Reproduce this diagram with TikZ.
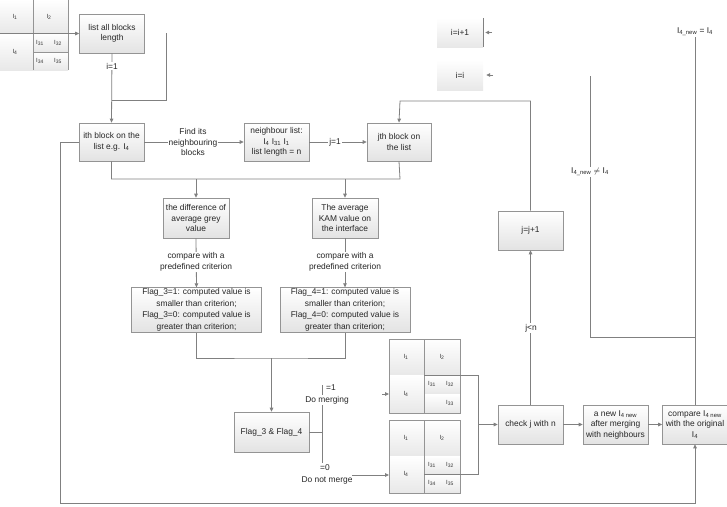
\documentclass[tikz,border=0pt]{standalone}
\usepackage{fontspec}
\setmainfont{Liberation Sans}
\usetikzlibrary{arrows.meta}
\newcommand{\Ib}[1]{I\textsubscript{#1}}
\begin{document}
\begin{tikzpicture}[x=1pt,y=-1pt]
\tikzset{
  ln/.style={draw=black!50, line width=0.8pt},
  arr/.style={ln, -{Triangle[length=4pt,width=3.6pt]}},
  box/.style={draw=black!42, line width=0.7pt, top color=white, bottom color=black!11,
    align=center, inner sep=1pt, text=black!85,
    font=\fontsize{8.4}{10.5}\selectfont},
  bigbox/.style={box, font=\fontsize{8.4}{11.6}\selectfont},
  plainbox/.style={top color=white, bottom color=black!9, align=center, inner sep=1pt,
    text=black!85, font=\fontsize{8.4}{10.5}\selectfont},
  lab/.style={fill=white, inner sep=1pt, align=center, text=black!85,
    font=\fontsize{8.4}{10.5}\selectfont},
  cell/.style={top color=white, bottom color=black!9},
  grid/.style={draw=black!42, line width=0.7pt},
  gl/.style={inner sep=0pt, text=black!80, font=\fontsize{6}{7}\selectfont},
}
\useasboundingbox (0,0) rectangle (727,506);

% ---------- initial block layout (top left) ----------
\path[cell] (0,0) rectangle (33,33);
\path[cell] (33,0) rectangle (68,33);
\path[cell] (0,33) rectangle (33,70);
\path[cell] (33,33) rectangle (68,52);
\path[cell] (33,52) rectangle (68,70);
\draw[grid] (33,0) -- (33,70) (68,0) -- (68,70) (33,52) -- (68,52);
\node[gl] (a1) at (15,17) {\Ib{1}};
\node[gl] (a2) at (49,17) {\Ib{2}};
\node[gl] (a4) at (15,52) {\Ib{4}};
\node[gl] (a31) at (40,43) {\Ib{31}};
\node[gl] (a32) at (58,43) {\Ib{32}};
\node[gl] (a34) at (40,61) {\Ib{34}};
\node[gl] (a35) at (58,61) {\Ib{35}};
\coordinate (gridOut) at (0,33.5);

% ---------- merged layout (upper) ----------
\path[cell] (389,339) rectangle (424,375);
\path[cell] (424,339) rectangle (460,375);
\path[cell] (389,375) rectangle (424,413);
\path[cell] (424,375) rectangle (460,394);
\path[cell] (424,394) rectangle (460,413);
\draw[grid] (389,339) rectangle (460,413) (424,339) -- (424,413);
\node[gl] (t1) at (406,357) {\Ib{1}};
\node[gl] (t2) at (442,357) {\Ib{2}};
\node[gl] (t4) at (406,394) {\Ib{4}};
\node[gl] (t31) at (432,384) {\Ib{31}};
\node[gl] (t32) at (450,384) {\Ib{32}};
\node[gl] (t33) at (450,403) {\Ib{33}};

% ---------- unmerged layout (lower) ----------
\path[cell] (389,420) rectangle (424,456);
\path[cell] (424,420) rectangle (460,456);
\path[cell] (389,456) rectangle (424,493);
\path[cell] (424,456) rectangle (460,474);
\path[cell] (424,474) rectangle (460,493);
\draw[grid] (389,420) rectangle (460,493) (424,420) -- (424,493);
\node[gl] (b1) at (406,438) {\Ib{1}};
\node[gl] (b2) at (442,438) {\Ib{2}};
\node[gl] (b4) at (406,474) {\Ib{4}};
\node[gl] (b31) at (432,465) {\Ib{31}};
\node[gl] (b32) at (450,465) {\Ib{32}};
\node[gl] (b34) at (432,483) {\Ib{34}};
\node[gl] (b35) at (450,483) {\Ib{35}};

% ---------- process boxes ----------
\node[box, minimum width=65pt, minimum height=39pt] (list) at (112,33.5) {list all blocks\\length};
\node[box, minimum width=65pt, minimum height=38pt] (ith) at (111.5,142) {ith block on the\\list e.g. \Ib{4}};
\node[box, minimum width=65pt, minimum height=38pt] (nbr) at (276.5,142) {neighbour list:\\\Ib{4} \Ib{31} \Ib{1}\\list length = n};
\node[box, minimum width=64pt, minimum height=38pt] (jth) at (399,142) {jth block on\\the list};
\node[box, minimum width=66pt, minimum height=40pt] (diff) at (196,218) {the difference of\\average grey\\value};
\node[box, minimum width=66pt, minimum height=40pt] (kam) at (345,218) {The average\\KAM value on\\the interface};
\node[bigbox, minimum width=130pt, minimum height=44pt] (flagA) at (196.5,310) {Flag\_3=1: computed value is\\smaller than criterion;\\Flag\_3=0: computed value is\\greater than criterion;};
\node[bigbox, minimum width=130pt, minimum height=44pt] (flagB) at (345,310) {Flag\_4=1: computed value is\\smaller than criterion;\\Flag\_4=0: computed value is\\greater than criterion;};
\node[box, minimum width=75pt, minimum height=40pt] (flags) at (271.5,432) {Flag\_3 \& Flag\_4};
\node[box, minimum width=65pt, minimum height=39pt] (check) at (530.5,424.5) {check j with n};
\node[box, minimum width=65pt, minimum height=39pt] (newb) at (615.5,424.5) {a new \Ib{4 new}\\after merging\\with neighbours};
\node[box, minimum width=65pt, minimum height=39pt] (cmp) at (695,424.5) {compare \Ib{4 new}\\with the original\\\Ib{4}};
\node[box, minimum width=65pt, minimum height=39pt] (jinc) at (530.5,230.5) {j=j+1};
\node[plainbox, minimum width=46pt, minimum height=29pt] (iinc) at (460,32.5) {i=i+1};
\node[plainbox, minimum width=46pt, minimum height=30pt] (ikeep) at (460,75) {i=i};
\draw[ln] (iinc.north east) -- (iinc.south east);

% ---------- named points of the connectors ----------
\coordinate (loopTop) at (166,33);
\coordinate (loopJoin) at (112,100);
\coordinate (bottomLeft) at (60,503);
\coordinate (split) at (400,179);
\coordinate (jLoop) at (400,101);
\coordinate (join) at (271.5,358);
\coordinate (fork) at (322,432);
\coordinate (forkTop) at (322,385);
\coordinate (forkBot) at (322,463);
\coordinate (tMid) at (424,375);
\coordinate (bMid) at (424,474);
\coordinate (mergeB) at (478,474);
\coordinate (mergeMid) at (478,424.5);
\coordinate (mergeTail) at (382,394);
\coordinate (t4w) at (389,394);
\coordinate (b4w) at (389,475);
\coordinate (neqCorner) at (590,337);
\coordinate (neqTop) at (590,76);
\coordinate (iincTail) at (492,32.5);
\coordinate (ikeepTail) at (493,75);

% ---------- connectors ----------
\draw[arr] (gridOut) -- (list.west);
\draw[arr] (list.south) -- (ith.north);
\draw[ln] (loopTop) |- (loopJoin);
\draw[arr] (ith.west) -| (bottomLeft) -| (cmp.south);
\draw[arr] (ith.east) -- (nbr.west);
\draw[arr] (nbr.east) -- (jth.west);
\draw[arr] (jinc.north) |- (jLoop) -- (jth.north);
\draw[ln] (ith.south) |- (split) -- (jth.south);
\draw[arr] (diff.north |- split) -- (diff.north);
\draw[arr] (kam.north |- split) -- (kam.north);
\draw[arr] (diff.south) -- (flagA.north);
\draw[arr] (kam.south) -- (flagB.north);
\draw[ln] (flagA.south) |- (join) -| (flagB.south);
\draw[arr] (join) -- (flags.north);
\draw[ln] (flags.east) -- (fork);
\draw[ln] (forkTop) -- (forkBot);
\draw[arr] (mergeTail) -- (t4w);
\draw[ln] (tMid) -| (mergeB) -- (bMid);
\draw[arr] (mergeMid) -- (check.west);
\draw[arr] (check.north) -- (jinc.south);
\draw[arr] (check.east) -- (newb.west);
\draw[arr] (newb.east) -- (cmp.west);
\draw[ln] (cmp.north |- neqCorner) -- (neqCorner) -- (neqTop);
\draw[arr, shorten >=2pt] (iincTail) -- (iinc.east);
\draw[arr, shorten >=3pt] (ikeepTail) -- (ikeep.east);

% ---------- connector labels ----------
\node[lab] (lbI) at (112,66) {i=1};
\node[lab] (lbFind) at (193,142) {Find its\\neighbouring\\blocks};
\node[lab] (lbJ) at (335,142) {j=1};
\node[lab] (lbCmpA) at (196,262) {compare with a\\predefined criterion};
\node[lab] (lbCmpB) at (345,262) {compare with a\\predefined criterion};
\node[lab, fill=none] (lbOne) at (331,388) {=1};
\node[lab] (lbMerge) at (327,400) {Do merging};
\node[lab, fill=none] (lbZero) at (325,468) {=0};
\node[lab] (lbNoMerge) at (327,480.5) {Do not merge};
\node[lab] (lbJn) at (531,328) {j\textless n};
\node[lab] (lbNeq) at (590,172) {\Ib{4\_new} $\neq$ \Ib{4}};
\node[lab, anchor=south] (lbEq) at (695,37) {\Ib{4\_new} = \Ib{4}};
\draw[ln] (cmp.north) -- (lbEq.south);
\coordinate (nmEnd) at (352,475);
\draw[arr] (nmEnd) -- (b4w);
\end{tikzpicture}
\end{document}
